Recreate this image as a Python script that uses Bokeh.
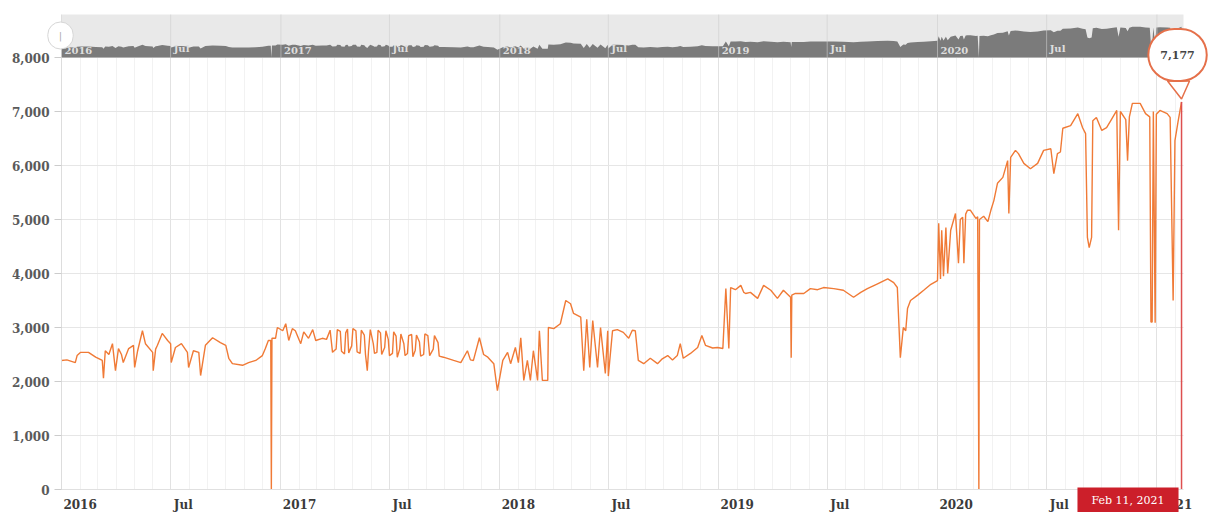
import pandas as pd
from bokeh.plotting import figure
from bokeh.models import (Range1d, FixedTicker, NumeralTickFormatter, CustomJSTickFormatter,
                          BoxAnnotation, Label, PolyAnnotation, ColumnDataSource, Grid)
from bokeh.core.properties import value
from bokeh.embed import file_html
from bokeh.resources import INLINE

# ---------------- data ----------------
dates = [
    "2016-01-01", "2016-01-10", "2016-01-24", "2016-01-27", "2016-02-02", "2016-02-15", "2016-02-27",
    "2016-03-09", "2016-03-11", "2016-03-14", "2016-03-20", "2016-03-26", "2016-03-31", "2016-04-05",
    "2016-04-10", "2016-04-13", "2016-04-22", "2016-04-30", "2016-05-02", "2016-05-07", "2016-05-15",
    "2016-05-20", "2016-06-01", "2016-06-02", "2016-06-06", "2016-06-09", "2016-06-17", "2016-06-26",
    "2016-07-01", "2016-07-02", "2016-07-09", "2016-07-19", "2016-07-29", "2016-07-31", "2016-08-08",
    "2016-08-17", "2016-08-20", "2016-08-28", "2016-09-09", "2016-09-22", "2016-10-01", "2016-10-06",
    "2016-10-12", "2016-10-29", "2016-11-08", "2016-11-20", "2016-12-01", "2016-12-06", "2016-12-11",
    "2016-12-15", "2016-12-16", "2016-12-17", "2016-12-23", "2016-12-26",
    "2017-01-04", "2017-01-09", "2017-01-14", "2017-01-20", "2017-01-25", "2017-02-03", "2017-02-08",
    "2017-02-16", "2017-02-23", "2017-02-28", "2017-03-11", "2017-03-18", "2017-03-24", "2017-03-28",
    "2017-04-03", "2017-04-05", "2017-04-10", "2017-04-12", "2017-04-17", "2017-04-19", "2017-04-22",
    "2017-04-24", "2017-04-29", "2017-05-01", "2017-05-06", "2017-05-08", "2017-05-13", "2017-05-15",
    "2017-05-20", "2017-05-22", "2017-05-25", "2017-05-27", "2017-05-30", "2017-06-04", "2017-06-06",
    "2017-06-10", "2017-06-12", "2017-06-16", "2017-06-18", "2017-06-23", "2017-06-25", "2017-06-29",
    "2017-07-01", "2017-07-06", "2017-07-08", "2017-07-12", "2017-07-14", "2017-07-18", "2017-07-20",
    "2017-07-25", "2017-07-27", "2017-07-31", "2017-08-02", "2017-08-07", "2017-08-09", "2017-08-13",
    "2017-08-15", "2017-08-20", "2017-08-22", "2017-08-27", "2017-08-29", "2017-09-03", "2017-09-06",
    "2017-09-12", "2017-09-14", "2017-09-20", "2017-09-22", "2017-09-29", "2017-10-16", "2017-10-28",
    "2017-11-08", "2017-11-13", "2017-11-18", "2017-11-28", "2017-12-05", "2017-12-12", "2017-12-22",
    "2017-12-28",
    "2018-01-06", "2018-01-14", "2018-01-19", "2018-01-27", "2018-02-01", "2018-02-05", "2018-02-10",
    "2018-02-16", "2018-02-21", "2018-02-26", "2018-03-05", "2018-03-08", "2018-03-13", "2018-03-22",
    "2018-03-23", "2018-04-01", "2018-04-12", "2018-04-21", "2018-04-29", "2018-05-04", "2018-05-16",
    "2018-05-21", "2018-05-26", "2018-05-31", "2018-06-05", "2018-06-13", "2018-06-18", "2018-06-26",
    "2018-06-30", "2018-07-01", "2018-07-08", "2018-07-16", "2018-07-26", "2018-08-04", "2018-08-10",
    "2018-08-15", "2018-08-20", "2018-08-29", "2018-09-09", "2018-09-21", "2018-09-29", "2018-10-08",
    "2018-10-16", "2018-10-24", "2018-10-29", "2018-11-03", "2018-11-15", "2018-11-27", "2018-12-04",
    "2018-12-10", "2018-12-22", "2018-12-30",
    "2019-01-08", "2019-01-13", "2019-01-18", "2019-01-21", "2019-01-29", "2019-02-07", "2019-02-12",
    "2019-02-15", "2019-02-23", "2019-03-07", "2019-03-17", "2019-03-29", "2019-04-09", "2019-04-19",
    "2019-05-01", "2019-05-02", "2019-05-03", "2019-05-09", "2019-05-23", "2019-06-03", "2019-06-15",
    "2019-06-25", "2019-07-12", "2019-07-28", "2019-08-14", "2019-08-26", "2019-09-06", "2019-09-23",
    "2019-10-10", "2019-10-20", "2019-10-26", "2019-10-31", "2019-11-05", "2019-11-09", "2019-11-12",
    "2019-11-17", "2019-11-29", "2019-12-09", "2019-12-21",
    "2020-01-01", "2020-01-03", "2020-01-06", "2020-01-08", "2020-01-11", "2020-01-15", "2020-01-18",
    "2020-01-23", "2020-01-31", "2020-02-05", "2020-02-08", "2020-02-12", "2020-02-14", "2020-02-17",
    "2020-02-20", "2020-02-25", "2020-03-05", "2020-03-08", "2020-03-10", "2020-03-11", "2020-03-18",
    "2020-03-25", "2020-03-30", "2020-04-04", "2020-04-10", "2020-04-19", "2020-04-27", "2020-04-29",
    "2020-05-02", "2020-05-10", "2020-05-15", "2020-05-24", "2020-06-04", "2020-06-16", "2020-06-26",
    "2020-07-08", "2020-07-13", "2020-07-19", "2020-07-24", "2020-07-28", "2020-08-10", "2020-08-22",
    "2020-08-30", "2020-09-04", "2020-09-07", "2020-09-10", "2020-09-14", "2020-09-16", "2020-09-22",
    "2020-10-01", "2020-10-09", "2020-10-17", "2020-10-26", "2020-10-29", "2020-11-01", "2020-11-10",
    "2020-11-13", "2020-11-16", "2020-11-21", "2020-12-04", "2020-12-13", "2020-12-20", "2020-12-22",
    "2020-12-24", "2020-12-26", "2020-12-29", "2020-12-31",
    "2021-01-06", "2021-01-18", "2021-01-23", "2021-01-28", "2021-01-31", "2021-02-05", "2021-02-11",
]
values = [
    2390, 2400, 2350, 2480, 2540, 2540, 2450,
    2390, 2060, 2570, 2500, 2700, 2200, 2610,
    2500, 2350, 2610, 2670, 2260, 2570, 2940,
    2700, 2540, 2200, 2600, 2670, 2890, 2760,
    2700, 2350, 2630, 2700, 2540, 2260, 2570,
    2540, 2110, 2670, 2810, 2720, 2670, 2430,
    2330, 2300, 2350, 2390, 2480, 2610, 2760,
    2760, 0, 2800, 2800, 3000,
    2940, 3070, 2760, 2980, 2940, 2700, 2920,
    2800, 2960, 2760, 2800, 2780, 2950, 2540,
    2600, 2960, 2930, 2560, 2510, 2900, 2970,
    2530, 2660, 2980, 2940, 2550, 2520, 2950,
    2860, 2500, 2200, 2560, 2960, 2700, 2520,
    2540, 2950, 2900, 2500, 2630, 2940, 2780,
    2480, 2520, 2920, 2840, 2450, 2600, 2880,
    2700, 2480, 2520, 2850, 2870, 2460, 2580,
    2860, 2730, 2470, 2500, 2880, 2850, 2480,
    2600, 2850, 2720, 2470, 2450, 2390, 2350,
    2570, 2400, 2390, 2810, 2500, 2450, 2330,
    1830,
    2390, 2540, 2330, 2630, 2350, 2810, 2020,
    2390, 2020, 2570, 2020, 2940, 2020, 2020,
    3000, 2980, 3070, 3500, 3440, 3260, 3190,
    2200, 3150, 2260, 3130, 2260, 3000, 2150,
    2940, 2100, 2940, 2960, 2910, 2800, 2950,
    2940, 2390, 2330, 2430, 2330, 2420, 2480,
    2400, 2480, 2700, 2430, 2520, 2630, 2850,
    2670, 2620, 2630,
    2610, 3720, 2610, 3740, 3700, 3780, 3650,
    3630, 3650, 3540, 3780, 3690, 3540, 3690,
    3560, 2440, 3600, 3630, 3630, 3720, 3700,
    3740, 3720, 3690, 3560, 3650, 3720, 3810,
    3900, 3830, 3740, 2440, 3000, 2940, 3350,
    3500, 3600, 3690, 3800,
    3870, 4930, 3900, 4800, 3950, 4850, 4000,
    4800, 5110, 4190, 5000, 5040, 4190, 5100,
    5170, 5170, 5020, 5050, 0, 5000, 5060,
    4960, 5170, 5350, 5670, 5780, 6090, 5110,
    6150, 6280, 6220, 6040, 5940, 6040, 6280,
    6310, 5850, 6220, 6250, 6690, 6740, 6960,
    6700, 6590, 4670, 4480, 4670, 6830, 6890,
    6650, 6700, 6850, 7020, 4800, 7000, 6850,
    6090, 6900, 7150, 7150, 6960, 6900, 3100,
    3100, 7000, 3090, 6950,
    7020, 6960, 6890, 3500, 6460, 6800, 7177,
]

y_ticks = [0, 1000, 2000, 3000, 4000, 5000, 6000, 7000, 8000]
year_ticks = ["2016-01-01", "2017-01-01", "2018-01-01", "2019-01-01", "2020-01-01", "2021-01-01"]
year_labels = ["2016", "2017", "2018", "2019", "2020", "2021"]
jul_ticks = ["2016-07-01", "2017-07-01", "2018-07-01", "2019-07-01", "2020-07-01"]
jul_labels = ["Jul", "Jul", "Jul", "Jul", "Jul"]

# ---------------- layout constants (page pixels) ----------------
W, H = 1210, 512
PX_LEFT, PX_RIGHT = 61, 1183      # plot area left/right
PX_ZERO, PX_8000, PX_NAVTOP = 489, 57, 14
PX_PER_YEAR = 219.0
DAY_MS = 86400000.0
MS_PER_PX = 365.25 * DAY_MS / PX_PER_YEAR
U_PER_PX = 8000.0 / (PX_ZERO - PX_8000)
NAV_TOP = 10000.0                  # navigator value at top of its strip
NAV_PER_PX = NAV_TOP / (PX_8000 - PX_NAVTOP)

ORANGE = "#f07a36"
FONT = "DejaVu Serif"

df = pd.DataFrame({"date": pd.to_datetime(dates), "value": values})
src = ColumnDataSource(df)

def ms(t):
    return pd.Timestamp(t).value / 1e6

x0 = ms("2016-01-01")
def px_x(px):
    return x0 + (px - PX_LEFT) * MS_PER_PX
def px_y(py):
    return (PX_ZERO - py) * U_PER_PX

x_right = px_x(PX_RIGHT)
y_navtop = px_y(PX_NAVTOP)

p = figure(width=W, height=H, x_axis_type="datetime", output_backend="svg",
           toolbar_location=None,
           x_range=Range1d(px_x(0), px_x(W)), y_range=Range1d(px_y(H), px_y(0)),
           min_border=0, min_border_left=0, min_border_right=0,
           min_border_top=0, min_border_bottom=0)
p.outline_line_color = None
p.background_fill_color = "white"
p.border_fill_color = "white"
p.extra_y_ranges = {"nav": Range1d(-(H - PX_8000) * NAV_PER_PX, PX_8000 * NAV_PER_PX)}

# ---------------- grids ----------------
major_ms = sorted([ms(t) for t in year_ticks + jul_ticks])
minor_ms = [ms(t) for t in pd.date_range("2016-02-01", "2021-02-01", freq="MS")]
HAS_CB = "cross_bounds" in Grid.properties()
if HAS_CB:
    p.xgrid[0].ticker = FixedTicker(ticks=major_ms, minor_ticks=minor_ms)
    p.xgrid[0].cross_bounds = (0, 8000)
    p.xgrid.grid_line_color = "#e2e2e2"
    p.xgrid.minor_grid_line_color = "#f2f2f2"
    p.ygrid[0].ticker = FixedTicker(ticks=y_ticks[1:])
    p.ygrid[0].cross_bounds = (x0, x_right)
    p.ygrid.grid_line_color = "#e6e6e6"
else:
    p.xgrid.visible = False
    p.ygrid.visible = False
    p.segment(x0=minor_ms, y0=0, x1=minor_ms, y1=8000, line_color="#f2f2f2", level="underlay")
    p.segment(x0=major_ms, y0=0, x1=major_ms, y1=8000, line_color="#e2e2e2", level="underlay")
    p.segment(x0=x0, y0=y_ticks[1:], x1=x_right, y1=y_ticks[1:], line_color="#e6e6e6",
              level="underlay")

# ---------------- axes (fixed inside the canvas) ----------------
p.yaxis.fixed_location = x0
p.yaxis.ticker = FixedTicker(ticks=y_ticks)
p.yaxis.formatter = NumeralTickFormatter(format="0,0")
p.yaxis.bounds = (0, 8000)
p.yaxis.axis_line_color = "#dddddd"
p.yaxis.major_tick_line_color = "#cccccc"
p.yaxis.major_tick_out = 7
p.yaxis.major_tick_in = 0
p.yaxis.minor_tick_line_color = None
p.yaxis.major_label_standoff = 5
p.yaxis.major_label_text_font = FONT
p.yaxis.major_label_text_font_style = "bold"
p.yaxis.major_label_text_font_size = "12px"
p.yaxis.major_label_text_color = "#5a5a5a"

lab_pos = [ms(t) + 31 * DAY_MS for t in year_ticks] + [ms(t) + 21 * DAY_MS for t in jul_ticks]
lab_txt = year_labels + jul_labels
p.xaxis.fixed_location = 0
p.xaxis.bounds = (x0, x_right)
p.xaxis.ticker = FixedTicker(ticks=sorted(lab_pos))
p.xaxis.formatter = CustomJSTickFormatter(args=dict(pos=lab_pos, txt=lab_txt), code="""
const i = pos.indexOf(tick);
return i >= 0 ? txt[i] : "";
""")
p.xaxis.axis_line_color = "#e0e0e0"
p.xaxis.major_tick_line_color = None
p.xaxis.minor_tick_line_color = None
p.xaxis.major_tick_out = 0
p.xaxis.major_label_standoff = 8
p.xaxis.major_label_text_font = FONT
p.xaxis.major_label_text_font_style = "bold"
p.xaxis.major_label_text_font_size = "12px"
p.xaxis.major_label_text_color = "#3a3a3a"

# ---------------- navigator ----------------
p.add_layout(BoxAnnotation(left=x0, right=x_right, bottom=8000, top=y_navtop,
                           fill_color="#e9e9e9", fill_alpha=1.0,
                           line_color=None, level="underlay"))
p.varea(x="date", y1=0, y2="value", source=src, y_range_name="nav",
        fill_color="#7b7b7b", fill_alpha=1.0)
p.segment(x0=major_ms, y0=0, x1=major_ms, y1=NAV_TOP, y_range_name="nav",
          line_color="#cfcfcf", line_alpha=0.6, line_width=1)
nav_src = ColumnDataSource(dict(x=[ms(t) for t in year_ticks + jul_ticks],
                                y=[0] * len(lab_txt), t=lab_txt))
p.text(x="x", y="y", text="t", source=nav_src, y_range_name="nav", x_offset=3, y_offset=-4,
       text_align="left", text_baseline="bottom", text_font=value(FONT),
       text_font_style="bold", text_font_size="10px", text_color="#dedede")
p.add_layout(Label(x=x0, y=8000, x_offset=-1, y_offset=22, text="|",
                   text_align="center", text_baseline="middle", text_font=FONT,
                   text_font_size="10px", text_color="#aaaaaa",
                   background_fill_color="white", border_line_color="#d6d6d6",
                   border_radius=15, padding=dict(left=11, right=11, top=8, bottom=8)))

# ---------------- main series ----------------
p.line(x="date", y="value", source=src, line_color=ORANGE, line_width=1.4)

# crosshair + callout at the last point
lx = ms(df["date"].iloc[-1])
lv = float(df["value"].iloc[-1])
p.segment(x0=[lx], y0=[0], x1=[lx], y1=[lv], line_color="#dd4f4f", line_width=1.5)

p.add_layout(PolyAnnotation(
    xs=[lx - 14 * MS_PER_PX, lx, lx + 8 * MS_PER_PX],
    ys=[lv + 21 * U_PER_PX, lv + 3 * U_PER_PX, lv + 21 * U_PER_PX],
    fill_color="white", fill_alpha=1.0, line_color="#e5704a", line_alpha=1.0,
    line_width=1.5))
p.add_layout(Label(x=lx, y=lv, x_offset=-4, y_offset=47, text=f"{int(lv):,}",
                   text_align="center", text_baseline="middle", text_font=FONT,
                   text_font_style="bold", text_font_size="11px", text_color="#444444",
                   background_fill_color="white", border_line_color="#e5704a",
                   border_line_width=2, border_radius=30,
                   padding=dict(left=12, right=12, top=22, bottom=22)))

date_txt = df["date"].iloc[-1].strftime("%b %d, %Y")
p.add_layout(Label(x=lx, y=0, x_offset=-3, y_offset=2, text=date_txt,
                   text_align="right", text_baseline="top", text_font=FONT,
                   text_font_size="11px", text_color="white",
                   background_fill_color="#cc1f2a", border_line_color=None,
                   padding=dict(left=14, right=14, top=6, bottom=8)))

open("out.html", "w").write(file_html(p, INLINE))
